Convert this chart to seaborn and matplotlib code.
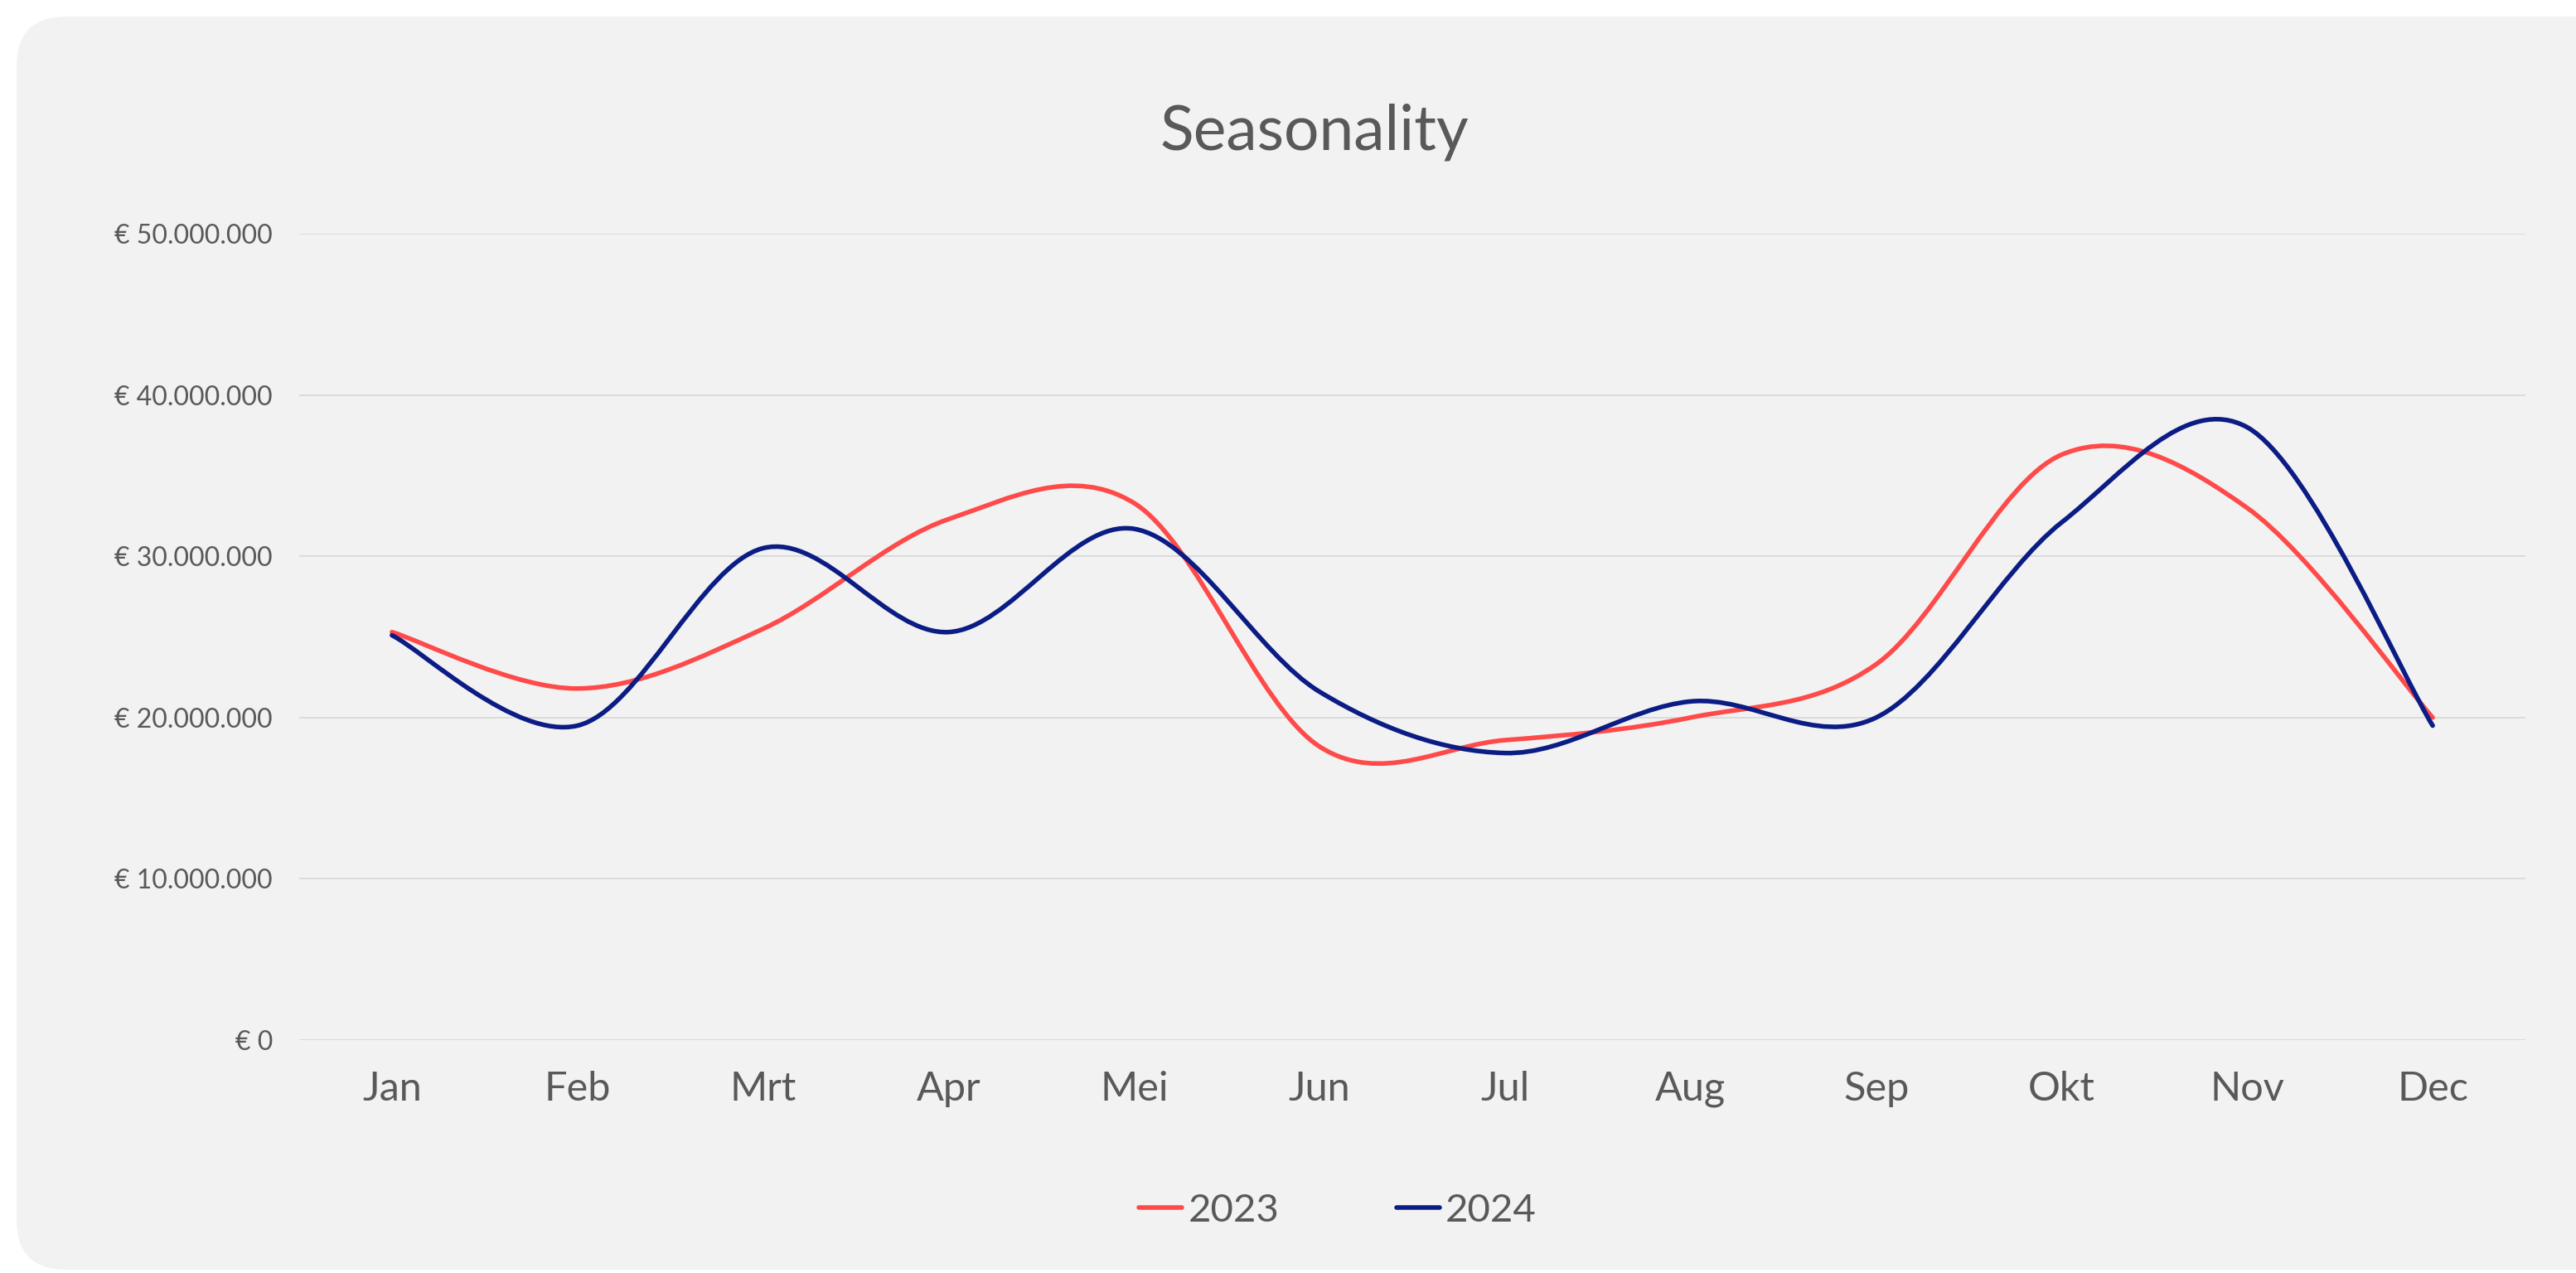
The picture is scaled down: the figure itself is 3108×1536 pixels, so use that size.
import matplotlib
matplotlib.use("Agg")
import matplotlib.pyplot as plt
import seaborn as sns
import pandas as pd
from matplotlib.path import Path
from matplotlib.patches import PathPatch, FancyBboxPatch
from matplotlib.lines import Line2D
from matplotlib.ticker import FuncFormatter
from matplotlib.transforms import IdentityTransform

# data (omzet per maand)
maanden = ["Jan", "Feb", "Mrt", "Apr", "Mei", "Jun", "Jul", "Aug", "Sep", "Okt", "Nov", "Dec"]
omzet_2023 = [25.3e6, 21.8e6, 25.5e6, 32.3e6, 33.3e6, 18.2e6, 18.6e6, 20.0e6, 23.3e6, 36.3e6, 33.0e6, 20.0e6]
omzet_2024 = [25.1e6, 19.5e6, 30.5e6, 25.3e6, 31.7e6, 21.6e6, 17.8e6, 21.0e6, 20.0e6, 32.1e6, 38.0e6, 19.5e6]
jaren = ["2023", "2024"]
kleuren = {"2023": "#FF4A4A", "2024": "#0B1C84"}
y_ticks = [0, 10e6, 20e6, 30e6, 40e6, 50e6]

tekst_kleur = "#595959"

df = pd.DataFrame({
    "maand": maanden * 2,
    "omzet": omzet_2023 + omzet_2024,
    "jaar": ["2023"] * 12 + ["2024"] * 12,
})

sns.set_theme(style="white")
plt.rcParams["font.family"] = ["Lato", "DejaVu Sans"]

fig = plt.figure(figsize=(31.08, 15.36), dpi=100)
fig.patch.set_facecolor("white")

# grijze kaart met afgeronde hoeken (pixels)
kaart = FancyBboxPatch((20, 4), 3300, 1512, boxstyle="round,pad=0,rounding_size=60",
                       transform=IdentityTransform(), facecolor="#F2F2F2", edgecolor="none", zorder=-10)
fig.patches.append(kaart)

ax = fig.add_axes([361 / 3108, 1 - 1255 / 1536, (3047 - 361) / 3108, (1255 - 282) / 1536])
ax.set_facecolor("none")
ax.set_zorder(1)

# seaborn zet de categorie-as op; de lijnen zelf worden glad getekend (zoals Excel)
sns.lineplot(data=df, x="maand", y="omzet", hue="jaar", palette=kleuren,
             linewidth=0, legend=False, ax=ax, sort=False)


def glad_pad(xs, ys):
    # cubic bezier door alle punten, controlepunten op 1/6 van de buren
    n = len(xs)
    verts = [(xs[0], ys[0])]
    codes = [Path.MOVETO]
    for i in range(n - 1):
        x0, y0 = xs[i], ys[i]
        x1, y1 = xs[i + 1], ys[i + 1]
        xp, yp = (xs[i - 1], ys[i - 1]) if i > 0 else (x0, y0)
        xn, yn = (xs[i + 2], ys[i + 2]) if i + 2 < n else (x1, y1)
        verts.append((x0 + (x1 - xp) / 6, y0 + (y1 - yp) / 6))
        verts.append((x1 - (xn - x0) / 6, y1 - (yn - y0) / 6))
        verts.append((x1, y1))
        codes += [Path.CURVE4] * 3
    return Path(verts, codes)


posities = list(range(len(maanden)))
for jaar, waarden in zip(jaren, [omzet_2023, omzet_2024]):
    patch = PathPatch(glad_pad(posities, waarden), facecolor="none", edgecolor=kleuren[jaar],
                      linewidth=4.0, capstyle="round", joinstyle="round", zorder=3)
    ax.add_patch(patch)

ax.set_xlim(-0.5, 11.5)
ax.set_ylim(0, 50e6)
ax.set_yticks(y_ticks)
ax.yaxis.set_major_formatter(FuncFormatter(lambda v, p: "€ " + f"{v:,.0f}".replace(",", ".")))
ax.grid(axis="y", color="#D9D9D9", linewidth=1.3)
ax.grid(axis="x", visible=False)
ax.set_axisbelow(True)
for s in ax.spines.values():
    s.set_visible(False)
ax.tick_params(axis="y", length=0, pad=23, labelsize=23, labelcolor=tekst_kleur)
ax.tick_params(axis="x", length=0, pad=27, labelsize=35, labelcolor=tekst_kleur)
ax.set_xlabel("")
ax.set_ylabel("")

fig.text(1586 / 3108, 1 - 180 / 1536, "Seasonality", ha="center", va="baseline",
         fontsize=54, color=tekst_kleur)

handles = [Line2D([], [], color=kleuren[j], linewidth=4.0, solid_capstyle="round") for j in jaren]
leg = fig.legend(handles, jaren, loc="center", bbox_to_anchor=(1614 / 3108, 1 - 1461 / 1536),
                 ncol=2, frameon=False, fontsize=34, handlelength=1.1, handletextpad=0.15,
                 columnspacing=3.0, labelcolor=tekst_kleur)

fig.savefig("out.png", dpi=100, facecolor="white")
